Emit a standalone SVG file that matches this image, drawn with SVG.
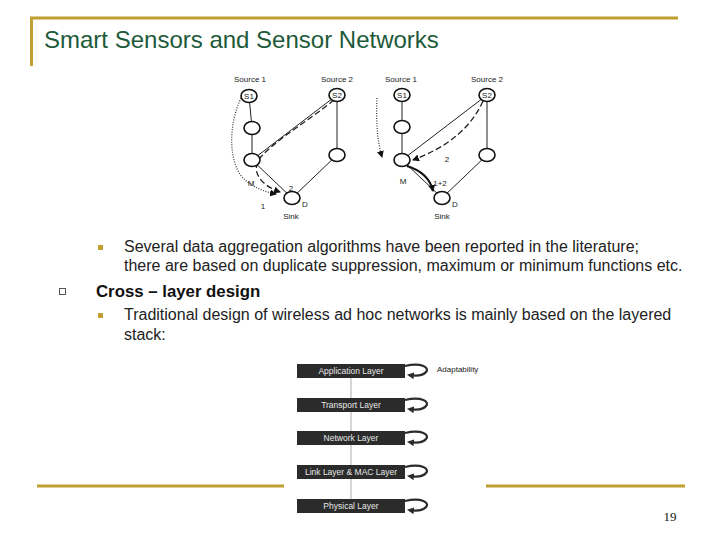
<svg xmlns="http://www.w3.org/2000/svg" width="720" height="540" viewBox="0 0 720 540">
<defs>
<style>
.gold{stroke:#c0a030;stroke-width:3;fill:none}
.title{font-family:"Liberation Sans",Arial,sans-serif;font-size:24px;fill:#1d5a3a}
.body{font-family:"Liberation Sans",Arial,sans-serif;font-size:16px;fill:#222}
.head{font-family:"Liberation Sans",Arial,sans-serif;font-size:16.8px;font-weight:bold;fill:#111}
.lbl{font-family:"Liberation Sans",Arial,sans-serif;font-size:8px;fill:#222}
.nd{fill:#fff;stroke:#111;stroke-width:1.6}
.ed{stroke:#222;stroke-width:1;fill:none}
.dash{stroke:#222;stroke-width:1.3;fill:none;stroke-dasharray:6 3}
.dot{stroke:#333;stroke-width:1.2;fill:none;stroke-dasharray:1 1.5}
.box{fill:#2b2b2b}
.bt{font-family:"Liberation Sans",Arial,sans-serif;font-size:8.5px;fill:#e8e8e8;text-anchor:middle}
.loop{stroke:#2b2b2b;stroke-width:2.2;fill:none}
</style>
<marker id="ah" markerWidth="7" markerHeight="7" refX="6" refY="3.5" orient="auto" markerUnits="userSpaceOnUse">
<path d="M0,0 L7,3.5 L0,7 Z" fill="#111"/>
</marker>
<marker id="la" markerWidth="7" markerHeight="7" refX="5" refY="3.5" orient="auto" markerUnits="userSpaceOnUse">
<path d="M0,0 L7,3.5 L0,7 Z" fill="#2b2b2b"/>
</marker>
</defs>
<rect width="720" height="540" fill="#fff"/>
<g id="frame">
<path class="gold" d="M30,18 H678 M31.5,18 V66"/>
<path class="gold" d="M37,486 H284 M486,486 H685"/>
</g>
<text class="title" x="44" y="48">Smart Sensors and Sensor Networks</text>

<g id="connectors">
<!-- diagram 1 -->
<path class="ed" d="M249,96 L252,128 L252,160 L292,198 M252,160 L337,95 M337,95 L337,155 L292,198"/>
<path class="dash" d="M334,100 C310,120 275,140 260,158 C250,172 262,186 280,192" marker-end="url(#ah)"/>
<path class="dot" d="M241,98 C228,125 228,165 245,180 C255,188 265,192 276,194" marker-end="url(#ah)"/>
<!-- diagram 2 -->
<path class="ed" d="M402,95 L402,127 L402,160 L442,198 M402,160 L487,95 M487,95 L487,155 L442,198"/>
<path class="dash" d="M483,101 C470,130 445,148 413,160" marker-end="url(#ah)"/>
<path d="M407,166 C420,170 430,178 433,191" stroke="#111" stroke-width="2.2" fill="none" marker-end="url(#ah)"/>
<path class="dot" d="M377,98 C376,120 377,140 382,157" marker-end="url(#ah)"/>
<!-- stack -->
<path d="M351,378 V398 M351,412 V431 M351,445 V465 M351,479 V499" stroke="#999" stroke-width="0.8"/>
</g>

<g id="diagram1">
<text class="lbl" x="250" y="82" text-anchor="middle">Source 1</text>
<text class="lbl" x="337" y="82" text-anchor="middle">Source 2</text>
<g id="d1-s1"><ellipse class="nd" cx="249" cy="96" rx="8" ry="6.5"/><text class="lbl" x="249" y="99" text-anchor="middle">S1</text></g>
<g id="d1-s2"><ellipse class="nd" cx="337" cy="95" rx="8" ry="6.5"/><text class="lbl" x="337" y="98" text-anchor="middle">S2</text></g>
<g id="d1-n2"><ellipse class="nd" cx="252" cy="128" rx="8" ry="6.5"/></g>
<g id="d1-m"><ellipse class="nd" cx="252" cy="160" rx="8" ry="6.5"/></g>
<g id="d1-r"><ellipse class="nd" cx="337" cy="155" rx="8" ry="6.5"/></g>
<g id="d1-d"><ellipse class="nd" cx="292" cy="198" rx="8" ry="6.5"/></g>
<text class="lbl" x="251" y="186" text-anchor="middle">M</text>
<text class="lbl" x="291" y="191" text-anchor="middle">2</text>
<text class="lbl" x="263" y="209" text-anchor="middle">1</text>
<text class="lbl" x="305" y="207" text-anchor="middle">D</text>
<text class="lbl" x="291" y="219" text-anchor="middle">Sink</text>
</g>

<g id="diagram2">
<text class="lbl" x="401" y="82" text-anchor="middle">Source 1</text>
<text class="lbl" x="487" y="82" text-anchor="middle">Source 2</text>
<g id="d2-s1"><ellipse class="nd" cx="402" cy="95" rx="8" ry="6.5"/><text class="lbl" x="402" y="98" text-anchor="middle">S1</text></g>
<g id="d2-s2"><ellipse class="nd" cx="487" cy="95" rx="8" ry="6.5"/><text class="lbl" x="487" y="98" text-anchor="middle">S2</text></g>
<g id="d2-n2"><ellipse class="nd" cx="402" cy="127" rx="8" ry="6.5"/></g>
<g id="d2-m"><ellipse class="nd" cx="402" cy="160" rx="8" ry="6.5"/></g>
<g id="d2-r"><ellipse class="nd" cx="487" cy="155" rx="8" ry="6.5"/></g>
<g id="d2-d"><ellipse class="nd" cx="442" cy="198" rx="8" ry="6.5"/></g>
<text class="lbl" x="403" y="184" text-anchor="middle">M</text>
<text class="lbl" x="440" y="186" text-anchor="middle">1+2</text>
<text class="lbl" x="447" y="162" text-anchor="middle">2</text>
<text class="lbl" x="455" y="207" text-anchor="middle">D</text>
<text class="lbl" x="442" y="219" text-anchor="middle">Sink</text>
</g>

<g id="bullets">
<rect x="98" y="245" width="5" height="5" fill="#c0a030"/>
<text class="body" x="124" y="252">Several data aggregation algorithms have been reported in the literature;</text>
<text class="body" x="124" y="271">there are based on duplicate suppression, maximum or minimum functions etc.</text>
<rect x="59.5" y="288.5" width="6" height="6" fill="#fff" stroke="#555" stroke-width="1"/>
<text class="head" x="96" y="297">Cross – layer design</text>
<rect x="98" y="313" width="5" height="5" fill="#c0a030"/>
<text class="body" x="124" y="320">Traditional design of wireless ad hoc networks is mainly based on the layered</text>
<text class="body" x="124" y="340">stack:</text>
</g>

<g id="app"><rect class="box" x="297" y="364" width="108" height="14"/><text class="bt" x="351" y="374">Application Layer</text><path class="loop" d="M405,366 C422,362 430,368 426,372 C423,376 416,376 409,375" marker-end="url(#la)"/></g>
<g id="transport"><rect class="box" x="297" y="398" width="108" height="14"/><text class="bt" x="351" y="408">Transport Layer</text><path class="loop" d="M405,400 C422,396 430,402 426,406 C423,410 416,410 409,409" marker-end="url(#la)"/></g>
<g id="network"><rect class="box" x="297" y="431" width="108" height="14"/><text class="bt" x="351" y="441">Network Layer</text><path class="loop" d="M405,433 C422,429 430,435 426,439 C423,443 416,443 409,442" marker-end="url(#la)"/></g>
<g id="link"><rect class="box" x="297" y="465" width="108" height="14"/><text class="bt" x="351" y="475">Link Layer  &amp; MAC Layer</text><path class="loop" d="M405,467 C422,463 430,469 426,473 C423,477 416,477 409,476" marker-end="url(#la)"/></g>
<g id="physical"><rect class="box" x="297" y="499" width="108" height="14"/><text class="bt" x="351" y="509">Physical Layer</text><path class="loop" d="M405,501 C422,497 430,503 426,507 C423,511 416,511 409,510" marker-end="url(#la)"/></g>
<text class="lbl" x="437" y="372">Adaptability</text>

<text x="670" y="521" font-family="'Liberation Serif','Times New Roman',serif" font-size="13" fill="#111" text-anchor="middle">19</text>
</svg>
